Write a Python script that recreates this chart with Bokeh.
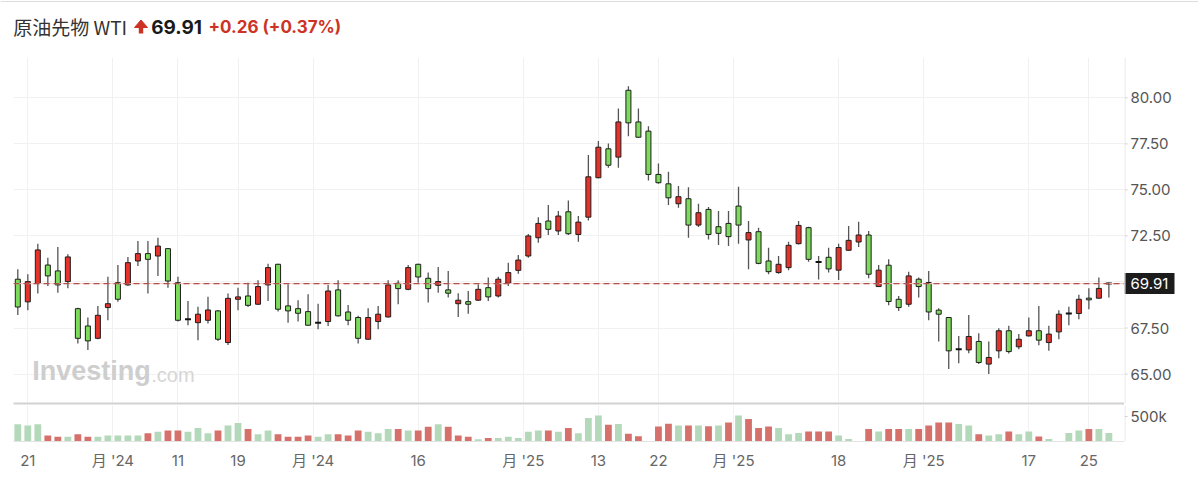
from bokeh.plotting import figure
from bokeh.models import Range1d, FixedTicker, Span, Label, ColumnDataSource
from bokeh.layouts import column, row
from bokeh.embed import file_html
from bokeh.resources import INLINE
from bokeh.core.properties import value

# ---- data (WTI crude futures, daily sessions) ----
opens = [70.15, 68.92, 69.91, 70.92, 70.60, 70.02, 68.55, 67.61, 66.94, 68.61,
         69.96, 69.84, 71.14, 71.54, 71.41, 71.81, 69.96, 67.97, 67.79, 67.92,
         68.43, 66.71, 69.06, 69.24, 68.79, 69.84, 70.96, 68.70, 68.55, 68.39,
         67.78, 67.85, 69.57, 68.37, 68.07, 66.89, 67.85, 68.10, 69.93, 69.60,
         70.96, 70.20, 69.82, 69.57, 68.82, 68.93, 69.01, 69.69, 69.24, 69.93,
         70.63, 71.41, 72.40, 73.31, 72.77, 73.81, 72.58, 73.52, 75.66, 77.23,
         76.78, 80.41, 78.69, 78.19, 75.84, 75.33, 74.25, 74.52, 73.09, 73.94,
         73.00, 73.18, 74.12, 72.28, 72.73, 71.14, 70.51, 70.78, 72.08, 72.95,
         71.08, 71.34, 70.64, 71.72, 72.17, 72.55, 69.75, 70.91, 69.06, 68.79,
         70.15, 69.97, 68.47, 68.07, 66.35, 66.31, 66.77, 65.54, 66.26, 67.35,
         66.48, 67.07, 67.35, 66.71, 67.29, 68.29, 68.29, 69.12, 69.12, 69.91]
highs = [70.69, 70.42, 72.08, 71.32, 71.90, 71.50, 68.60, 68.07, 68.70, 70.29,
         70.92, 71.36, 72.22, 72.22, 72.40, 71.85, 70.29, 68.97, 68.66, 69.20,
         68.48, 69.37, 69.69, 69.96, 70.09, 70.99, 70.99, 69.87, 69.01, 69.33,
         68.82, 69.84, 70.09, 68.75, 68.16, 68.57, 68.70, 70.09, 70.09, 70.92,
         70.99, 70.51, 70.81, 70.60, 69.39, 69.51, 69.87, 70.24, 70.29, 71.05,
         71.46, 72.60, 73.52, 74.18, 73.85, 74.43, 73.58, 76.89, 77.65, 77.52,
         79.42, 80.63, 79.42, 78.46, 76.44, 75.98, 75.21, 75.15, 74.25, 74.07,
         73.85, 73.85, 75.17, 73.31, 72.95, 71.86, 71.41, 72.19, 73.31, 73.00,
         71.41, 71.86, 72.08, 73.04, 73.27, 72.77, 70.92, 71.23, 69.24, 70.56,
         70.24, 70.60, 68.57, 68.10, 67.07, 68.21, 67.22, 66.77, 67.49, 67.62,
         67.17, 68.07, 68.70, 67.62, 68.47, 68.65, 69.30, 69.66, 70.24, 69.97]
lows = [68.21, 68.46, 69.37, 69.78, 69.42, 69.66, 66.66, 66.31, 66.89, 67.92,
        68.92, 69.80, 70.87, 69.37, 70.33, 69.69, 67.85, 67.65, 66.84, 67.74,
        66.80, 66.58, 68.46, 68.64, 68.75, 68.97, 68.39, 67.79, 67.85, 67.62,
        67.43, 67.61, 68.13, 67.65, 66.66, 66.86, 67.43, 68.07, 68.79, 69.55,
        69.96, 68.88, 69.42, 69.15, 68.10, 68.28, 68.98, 68.97, 69.15, 69.78,
        70.45, 71.32, 72.13, 72.55, 72.55, 72.55, 72.19, 73.34, 75.63, 76.20,
        76.20, 77.92, 77.83, 75.51, 75.33, 74.18, 74.03, 72.40, 72.98, 72.31,
        72.01, 71.95, 72.08, 70.69, 70.96, 70.42, 70.45, 70.63, 72.04, 71.10,
        70.14, 70.51, 70.11, 71.70, 71.90, 70.20, 69.73, 68.74, 68.43, 68.65,
        69.15, 67.92, 66.77, 65.27, 65.59, 66.13, 65.54, 65.00, 65.86, 66.12,
        66.35, 67.04, 66.57, 66.26, 66.89, 67.65, 67.98, 68.52, 69.10, 69.15]
closes = [68.64, 70.02, 71.74, 70.33, 69.84, 71.36, 66.94, 66.80, 68.19, 68.82,
          69.06, 71.05, 71.54, 71.23, 71.95, 70.05, 67.92, 67.97, 68.25, 68.48,
          66.89, 69.11, 69.19, 68.73, 69.75, 70.78, 68.52, 68.43, 68.30, 67.65,
          67.78, 69.51, 68.16, 67.92, 66.94, 68.07, 68.25, 69.84, 69.64, 70.78,
          70.27, 69.64, 70.02, 69.39, 69.01, 68.79, 69.60, 69.19, 70.15, 70.51,
          71.19, 72.50, 73.18, 72.86, 73.58, 72.62, 73.25, 75.71, 77.32, 76.34,
          78.69, 78.64, 77.86, 75.84, 75.39, 74.57, 74.63, 73.09, 73.76, 72.58,
          72.64, 72.46, 73.09, 72.68, 71.01, 70.56, 70.96, 71.99, 73.07, 71.23,
          71.08, 70.71, 71.87, 72.26, 72.55, 70.42, 70.64, 68.94, 68.61, 70.33,
          69.75, 68.37, 68.25, 66.26, 66.35, 67.04, 65.63, 65.90, 67.35, 66.22,
          66.89, 67.35, 66.84, 67.17, 68.25, 68.29, 69.06, 69.03, 69.65, 69.91]
volumes_k = [343, 321, 343, 121, 93, 93, 143, 93, 93, 121,
             121, 121, 121, 164, 193, 221, 221, 193, 271, 164,
             221, 321, 371, 250, 143, 221, 143, 93, 93, 121,
             93, 143, 143, 121, 221, 193, 164, 250, 250, 221,
             221, 293, 343, 293, 121, 93, 43, 71, 71, 93,
             71, 193, 221, 221, 193, 271, 164, 471, 521, 336,
             350, 157, 107, 7, 300, 357, 321, 321, 321, 307,
             321, 379, 521, 450, 271, 300, 271, 143, 171, 200,
             200, 200, 121, 50, 7, 250, 200, 250, 250, 250,
             250, 321, 379, 379, 350, 321, 143, 121, 143, 200,
             143, 200, 100, 50, 7, 171, 221, 250, 250, 171]
prior_close = 68.30  # session before the first one shown (colours the first volume bar)

tick_positions = [1, 9.5, 16, 22, 29.5, 40, 50.5, 58, 64, 71.5, 82, 90.5, 101, 107]
tick_labels = ["21", "月 '24", "11", "19", "月 '24", "16", "月 '25", "13", "22",
               "月 '25", "18", "月 '25", "17", "25"]
price_ticks = [65.0, 67.5, 70.0, 72.5, 75.0, 77.5, 80.0]
volume_ticks = [500000]
volume_tick_labels = ["500k"]
title_text = "原油先物 WTI"

# ---- styling ----
MW = 1124          # width of the chart part (frame ends at the axis line)
SW = 74            # width of the right-hand scale column
RED = "#e5322a"
GREEN = "#7ddb5b"
VRED = "#d6706a"
VGREEN = "#b3d9ba"
HRED = "#cc3325"
GRID = "#f1f1f1"
AXIS = "#e3e3e3"
NUM_FONT = "Inter"
LABEL_FONT = "Inter, 'Noto Sans CJK JP'"

n = len(closes)
xs = list(range(n))

body = dict(x=[], top=[], bottom=[], color=[])
doji = dict(x0=[], x1=[], y=[])
for i, (o, c) in enumerate(zip(opens, closes)):
    if c == o:
        doji["x0"].append(i - 0.3)
        doji["x1"].append(i + 0.3)
        doji["y"].append(o)
    else:
        body["x"].append(i)
        body["top"].append(max(o, c))
        body["bottom"].append(min(o, c))
        body["color"].append(RED if c > o else GREEN)

prev = [prior_close] + closes[:-1]
vol_src = ColumnDataSource(dict(
    x=xs, top=[v * 1000 for v in volumes_k],
    color=[VGREEN if c >= p else VRED for c, p in zip(closes, prev)]))
wick_src = ColumnDataSource(dict(x=xs, high=highs, low=lows))

x_range = Range1d(-0.43, 110.56)
last = closes[-1]
chg = closes[-1] - closes[-2]
pct = chg / closes[-2] * 100


def bare(fig):
    fig.outline_line_color = None
    fig.grid.visible = False
    fig.axis.visible = False
    fig.background_fill_color = "white"
    fig.border_fill_color = "white"


# ---- header ----
HW = MW + SW
head = figure(width=HW, height=48, x_range=Range1d(0, HW), y_range=Range1d(0, 48),
              output_backend="svg", toolbar_location=None, min_border=0)
bare(head)
head.add_layout(Span(location=47, dimension="width", line_color="#dddddd", line_width=1))
head.text(x=[12.7], y=[22], text=[title_text], text_font=value("Noto Sans CJK JP"),
          text_font_size="19px", text_color="#333333", text_baseline="middle")
# up-arrow icon
head.patch(x=[134, 140.5, 147], y=[21, 28.5, 21], fill_color=HRED, line_color=HRED)
head.quad(left=[138.3], right=[142.7], bottom=[15], top=[21.5], fill_color=HRED, line_color=None)
head.text(x=[150.7], y=[22], text=[f"{last:.2f}"], text_font=value(NUM_FONT),
          text_font_size="19px", text_font_style="bold", text_color="#1a1a1a",
          text_baseline="middle")
head.text(x=[208], y=[22], text=[f"{chg:+.2f} ({pct:+.2f}%)"], text_font=value(NUM_FONT),
          text_font_size="17px", text_font_style="bold", text_color=HRED,
          text_baseline="middle")

# ---- price panel ----
price_range = Range1d(63.40, 82.19)
main = figure(width=MW, height=357, x_range=x_range, y_range=price_range,
              output_backend="svg", toolbar_location=None,
              min_border_left=13, min_border_right=0, min_border_top=9, min_border_bottom=2)
main.outline_line_color = None
main.yaxis.visible = False
main.xaxis.ticker = FixedTicker(ticks=[])
main.xaxis.major_tick_in = 0
main.xaxis.major_tick_out = 0
main.xaxis.minor_tick_line_color = None
main.xaxis.major_label_standoff = 0
main.xaxis.axis_line_color = "#d2d2d2"
main.xaxis.axis_line_width = 2
main.xgrid.ticker = FixedTicker(ticks=tick_positions)
main.xgrid.grid_line_color = GRID
main.ygrid.ticker = FixedTicker(ticks=price_ticks)
main.ygrid.grid_line_color = GRID

main.add_layout(Label(x=1.44, y=64.33, text="Investing", text_font="Liberation Sans",
                      text_font_style="bold", text_font_size="27px", text_color="#cecece",
                      level="underlay"))
main.add_layout(Label(x=13.33, y=64.33, text=".com", text_font="Liberation Sans",
                      text_font_size="20px", text_color="#d6d6d6", level="underlay"))

main.segment(x0="x", y0="low", x1="x", y1="high", source=wick_src,
             line_color="#555555", line_width=1.3)
main.vbar(x="x", top="top", bottom="bottom", width=0.5, fill_color="color",
          line_color="#1e1e1e", line_width=1, source=ColumnDataSource(body))
main.segment(x0="x0", y0="y", x1="x1", y1="y", line_color="#111111", line_width=2,
             source=ColumnDataSource(doji))

main.add_layout(Span(location=last, dimension="width", line_color="#f3c6c4", line_width=1))
main.add_layout(Span(location=last, dimension="width", line_color="#b0504b",
                     line_width=1.4, line_dash="6 4"))

# right-hand price scale
pscale = figure(width=SW, height=357, x_range=Range1d(0, SW), y_range=price_range,
                output_backend="svg", toolbar_location=None,
                min_border_left=0, min_border_right=0, min_border_top=9, min_border_bottom=2)
bare(pscale)
pscale.add_layout(Span(location=0.5, dimension="height", line_color=AXIS, line_width=1))
ptick_src = ColumnDataSource(dict(y=price_ticks, label=[f"{t:.2f}" for t in price_ticks],
                                  x0=[0] * len(price_ticks), x1=[3] * len(price_ticks),
                                  xt=[6] * len(price_ticks)))
pscale.segment(x0="x0", y0="y", x1="x1", y1="y", source=ptick_src, line_color="#cccccc")
pscale.text(x="xt", y="y", text="label", source=ptick_src, text_font=value(NUM_FONT),
            text_font_size="15px", text_color="#555555", text_baseline="middle")
pscale.rect(x=[25], y=[last], width=50, height=21, height_units="screen",
            fill_color="#1c1c1c", line_color=None)
pscale.text(x=[6], y=[last], text=[f"{last:.2f}"], text_font=value(NUM_FONT),
            text_font_size="15px", text_color="white", text_baseline="middle")

# ---- volume panel ----
vol_range = Range1d(0, 720000)
vol = figure(width=MW, height=75, x_range=x_range, y_range=vol_range,
             output_backend="svg", toolbar_location=None,
             min_border_left=13, min_border_right=0, min_border_top=0, min_border_bottom=39)
vol.outline_line_color = None
vol.yaxis.visible = False
vol.vbar(x="x", top="top", bottom=0, width=0.68, fill_color="color", line_color=None,
         source=vol_src)
vol.xaxis.ticker = FixedTicker(ticks=tick_positions)
vol.xaxis.major_label_overrides = {t: l for t, l in zip(tick_positions, tick_labels)}
vol.xaxis.major_label_text_font = LABEL_FONT
vol.xaxis.major_label_text_font_size = "15px"
vol.xaxis.major_label_text_color = "#666666"
vol.xaxis.axis_line_color = AXIS
vol.xaxis.major_tick_in = 0
vol.xaxis.major_tick_out = 0
vol.xaxis.major_label_standoff = 9
vol.xaxis.minor_tick_line_color = None
vol.xgrid.grid_line_color = GRID
vol.ygrid.visible = False

vscale = figure(width=SW, height=75, x_range=Range1d(0, SW), y_range=vol_range,
                output_backend="svg", toolbar_location=None,
                min_border_left=0, min_border_right=0, min_border_top=0, min_border_bottom=39)
bare(vscale)
vscale.add_layout(Span(location=0.5, dimension="height", line_color=AXIS, line_width=1))
vtick_src = ColumnDataSource(dict(y=volume_ticks, label=volume_tick_labels,
                                  x0=[0] * len(volume_ticks), x1=[3] * len(volume_ticks),
                                  xt=[6] * len(volume_ticks)))
vscale.segment(x0="x0", y0="y", x1="x1", y1="y", source=vtick_src, line_color="#cccccc")
vscale.text(x="xt", y="y", text="label", source=vtick_src, text_font=value(NUM_FONT),
            text_font_size="15px", text_color="#555555", text_baseline="middle")

page = column(head, row(main, pscale, spacing=0), row(vol, vscale, spacing=0), spacing=0)
open("out.html", "w").write(file_html(page, INLINE))
